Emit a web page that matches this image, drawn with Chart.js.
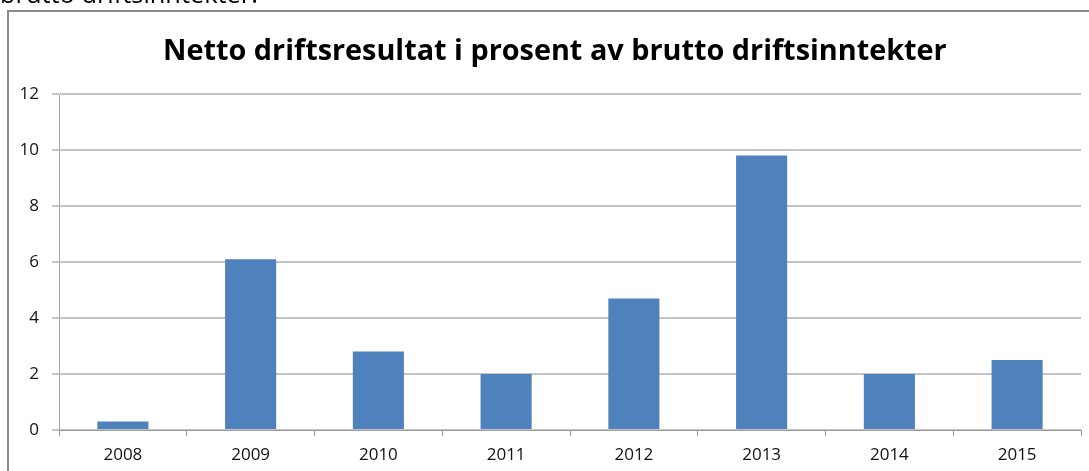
<!DOCTYPE html>
<html>
<head>
<meta charset="utf-8">
<script src="https://cdn.jsdelivr.net/npm/chart.js@4"></script>
<style>
  html, body { margin: 0; padding: 0; background: #fff; overflow: hidden; }
  #wrap { position: relative; width: 1089px; height: 471px; }
  #frame {
    position: absolute; left: 7px; top: 10px; width: 1120px; height: 500px;
    border: 2px solid #8a8a8a; box-sizing: border-box;
  }
  canvas { position: absolute; left: 0; top: 0; }
</style>
</head>
<body>
<div id="wrap">
  <div id="frame"></div>
  <canvas id="chart" width="1089" height="471"></canvas>
</div>
<script>
const years = ["2008", "2009", "2010", "2011", "2012", "2013", "2014", "2015"];
const values = [0.3, 6.1, 2.8, 2.0, 4.7, 9.8, 2.0, 2.5];
const yTicks = [0, 2, 4, 6, 8, 10, 12];
const titleText = "Netto driftsresultat i prosent av brutto driftsinntekter";
const topText = "brutto driftsinntekter.";

// fit a string into a given width, returns the font size
function fitFont(ctx, text, weight, family, width, guess) {
  ctx.font = weight + " " + guess + "px " + family;
  const w = ctx.measureText(text).width;
  return guess * width / w;
}

const textPlugin = {
  id: "texts",
  afterDraw(chart) {
    const ctx = chart.ctx;
    const fam = "'Liberation Sans Narrow', 'Open Sans', sans-serif";
    ctx.save();
    ctx.fillStyle = "#000";
    ctx.textBaseline = "alphabetic";

    // title
    let size = fitFont(ctx, titleText, "bold", fam, 784, 31);
    ctx.font = "bold " + size + "px " + fam;
    ctx.textAlign = "left";
    ctx.fillText(titleText, 163, 60);

    // cut-off caption line above the chart
    size = fitFont(ctx, topText, "normal", fam, 258, 22);
    ctx.font = size + "px " + fam;
    ctx.fillText(topText, 0, 3);
    ctx.restore();
  }
};

new Chart(document.getElementById("chart"), {
  type: "bar",
  data: {
    labels: years,
    datasets: [
      {
        data: values,
        backgroundColor: "#4f81bd",
        borderWidth: 0,
        barPercentage: 0.4,
        categoryPercentage: 1,
      },
    ],
  },
  options: {
    responsive: false,
    animation: false,
    devicePixelRatio: 1,
    layout: { padding: { top: 94, right: 8, left: 0, bottom: 0 } },
    plugins: {
      legend: { display: false },
      tooltip: { enabled: false },
      title: { display: false },
    },
    scales: {
      x: {
        afterFit: (scale) => { scale.height = 41; },
        grid: {
          offset: true,
          drawOnChartArea: false,
          drawTicks: true,
          tickLength: 6,
          color: "#9a9a9a",
        },
        border: { color: "#9a9a9a", width: 1 },
        ticks: {
          color: "#111",
          padding: 9,
          font: { family: "'Liberation Sans Narrow', 'Open Sans', sans-serif", size: 17 },
        },
      },
      y: {
        min: 0,
        max: 12,
        afterFit: (scale) => { scale.width = 59; },
        afterBuildTicks: (scale) => { scale.ticks = yTicks.map((v) => ({ value: v })); },
        grid: {
          color: "#c4c4c4",
          lineWidth: 2,
          drawTicks: true,
          tickLength: 7,
        },
        border: { color: "#a6a6a6", width: 1 },
        ticks: {
          color: "#111",
          padding: 13,
          font: { family: "'Liberation Sans Narrow', 'Open Sans', sans-serif", size: 17 },
        },
      },
    },
  },
  plugins: [textPlugin],
});
</script>
</body>
</html>
